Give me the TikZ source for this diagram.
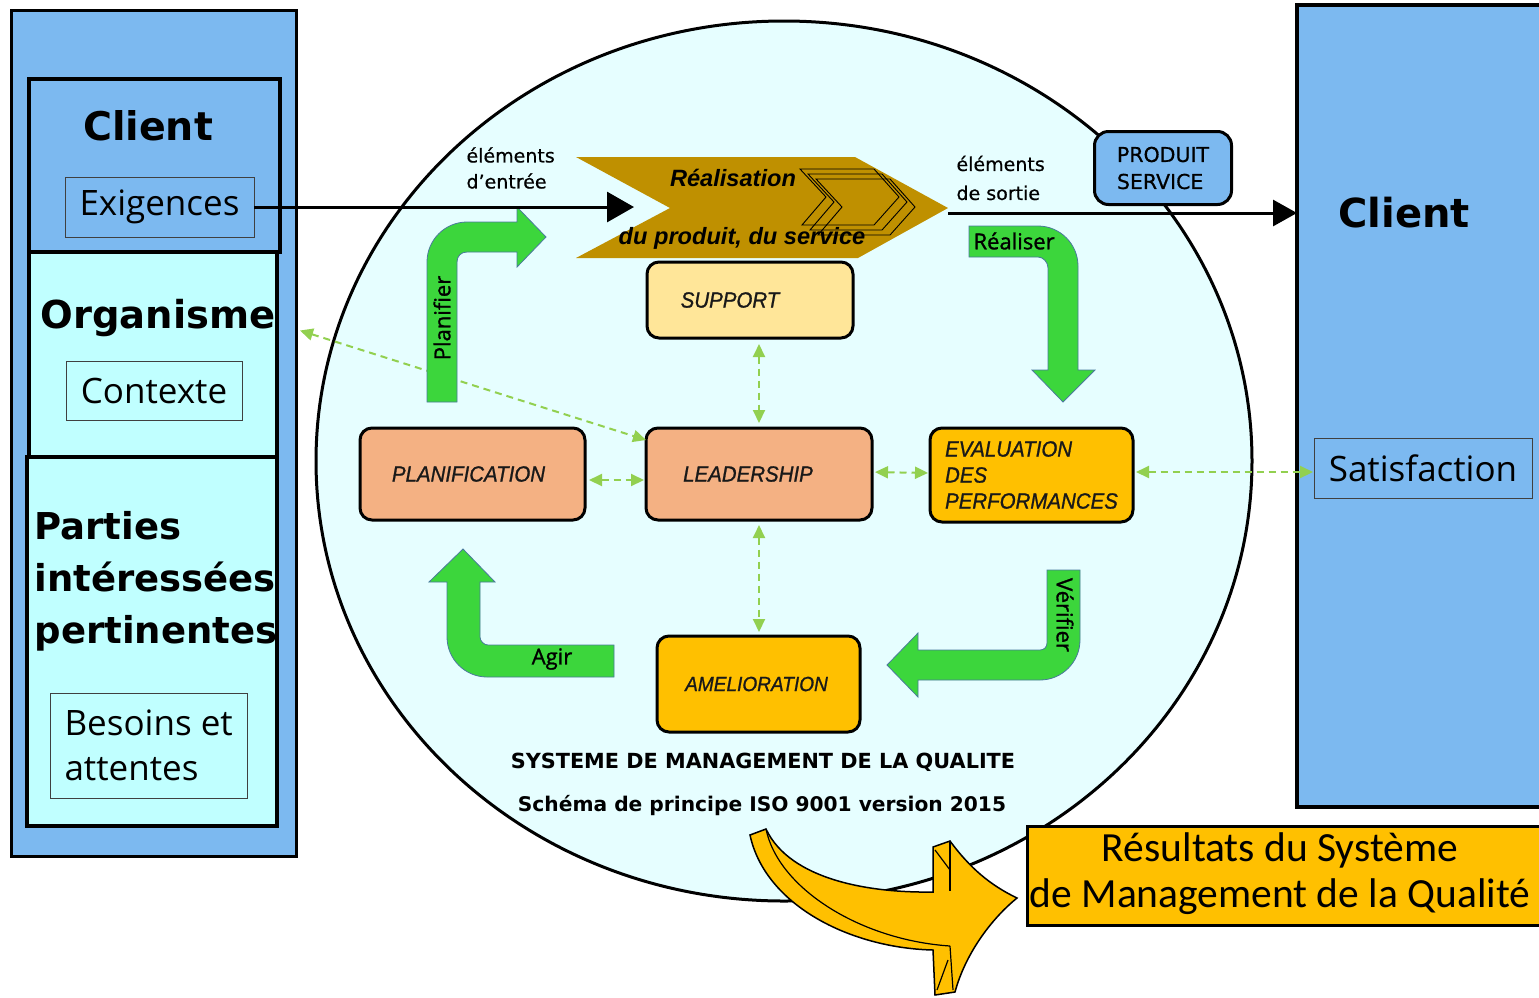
\documentclass[tikz,border=0pt]{standalone}
\usepackage{fontspec}
\setmainfont{DejaVu Sans}
\newfontfamily\dejamedium[FakeBold=0.6]{DejaVu Sans}
\newfontfamily\opensans{Open Sans}
\newfontfamily\opensemi[FakeBold=1.2]{Open Sans}
\newfontfamily\arialike{Liberation Sans}
\newfontfamily\arialabel[FakeBold=1,FakeStretch=0.93]{Liberation Sans}
\newfontfamily\carlito{Carlito}
\usetikzlibrary{shapes.geometric,arrows.meta}
\definecolor{panelblue}{HTML}{7CB9F0}
\definecolor{paleaqua}{HTML}{C0FFFF}
\definecolor{sysfill}{HTML}{E6FEFF}
\definecolor{gold}{HTML}{BF9000}
\definecolor{amber}{HTML}{FFC000}
\definecolor{salmon}{HTML}{F4B183}
\definecolor{cream}{HTML}{FFE699}
\definecolor{leaf}{HTML}{3CD63C}
\definecolor{leafedge}{HTML}{4A7A9C}
\definecolor{dashgreen}{HTML}{92D050}
\newcommand\fsz[2]{\fontsize{#1pt}{#2pt}\selectfont}
% pushes a centred label to the left by half of the given width
\newcommand\leftby[1]{\hspace*{#1}}
\begin{document}
\begin{tikzpicture}[x=1pt,y=-1pt,
  frame/.style={draw=black, line width=#1, inner sep=0pt, outer sep=0pt, anchor=north west},
  frame/.default=3pt,
  tag/.style={draw=black!75, line width=1pt, inner sep=0pt, outer sep=0pt, anchor=north west},
  proc/.style={draw=black, line width=3pt, rounded corners=12pt, inner sep=0pt, outer sep=0pt,
    anchor=north west, text=black!90, font=\arialabel\itshape\fsz{22}{26}},
  link/.style={dashgreen, line width=2pt, dash pattern=on 7pt off 5pt,
    {Triangle[length=13pt,width=12pt]}-{Triangle[length=13pt,width=12pt]}},
  flow/.style={fill=leaf, draw=leafedge, line width=0.8pt},
  flowlabel/.style={font=\opensemi\fsz{22}{26}},
  heading/.style={font=\bfseries\fsz{#1}{#1}},
  plain/.style={font=\opensans\fsz{35}{45}}
]
\useasboundingbox (0,0) rectangle (1539,997);
\clip (0,0) rectangle (1539,997);

% ---------- left column: interested parties ----------
\node[frame, fill=panelblue, minimum width=285pt, minimum height=846pt] (leftpanel) at (11,10) {};
\node[frame=4pt, fill=panelblue, minimum width=251pt, minimum height=173pt] (cl) at (29,79) {};
\node[frame=4pt, fill=paleaqua, minimum width=248pt, minimum height=205pt] (org) at (29,252) {};
\node[frame=4pt, fill=paleaqua, minimum width=250pt, minimum height=369pt] (pip) at (27,457) {};
\node[tag, fill=panelblue, minimum width=189pt, minimum height=60pt, plain] (exi) at (65,177) {Exigences};
\node[tag, fill=paleaqua, minimum width=176pt, minimum height=59pt, plain] (ctx) at (66,361) {Contexte};
\node[tag, fill=paleaqua, minimum width=197pt, minimum height=105pt] (bes) at (50,693) {};
\node[plain, anchor=west, align=left] at (61,745) {Besoins et\\attentes};
\node[heading=39.5] at (148,126) {Client};
\node[heading=38.5] at (158,318) {Organisme};
\node[font=\bfseries\fsz{37}{52}, anchor=west, align=left] at (31,581) {Parties\\intéressées\\pertinentes};

% ---------- right column: customer ----------
\node[frame=4pt, fill=panelblue, minimum width=260pt, minimum height=802pt] (rightpanel) at (1297,5) {};
\node[heading=40] at (1404,213) {Client};
\node[tag, fill=panelblue, minimum width=218pt, minimum height=60pt, plain] (sat) at (1314,438) {Satisfaction};

% ---------- quality management system ----------
\node[ellipse, draw=black, line width=3pt, fill=sysfill, inner sep=0pt,
      minimum width=936pt, minimum height=880pt] (sys) at (784,461) {};

% realisation chevron
\fill[gold] (576,157) -- (855,157) -- (948,208) -- (858,258) -- (576,258) -- (670,208) -- cycle;
\foreach \k in {0,1,2}
  \draw[black, line width=0.9pt, shift={(8*\k,5*\k)}]
    (800,169) -- (874,169) -- (899,197) -- (874,225) -- (802,225) -- (826,197) -- cycle;
\node[font=\arialike\bfseries\itshape\fsz{23.6}{28}] at (733,178) {Réalisation};
\node[font=\arialike\bfseries\itshape\fsz{23.6}{28}] at (742,238) {du produit, du service};
\coordinate (notch) at (634,207);
\coordinate (exitpt) at (948,213);

% processes
\node[proc, fill=cream, minimum width=206pt, minimum height=76pt] (sup) at (647,262) {SUPPORT\leftby{40pt}};
\node[proc, fill=salmon, minimum width=225pt, minimum height=92pt] (plan) at (360,428) {PLANIFICATION\leftby{8pt}};
\node[proc, fill=salmon, minimum width=226pt, minimum height=92pt] (lead) at (646,428) {LEADERSHIP\leftby{22pt}};
\node[proc, fill=amber, minimum width=203pt, minimum height=94pt, align=left] (eval) at (930,428)
  {EVALUATION\\DES\\PERFORMANCES};
\node[proc, fill=amber, minimum width=203pt, minimum height=96pt, font=\arialabel\itshape\fsz{20.5}{26}]
  (amel) at (657,636) {AMELIORATION\leftby{4pt}};

% interactions
\draw[link] ([xshift=23pt,yshift=24pt]org.east) -- ([yshift=-12pt]lead.north west);
\draw[link, shorten <=6pt, shorten >=5pt] (lead.north |- sup.south) -- (lead.north);
\draw[link, shorten <=5pt, shorten >=4pt] (lead.south) -- (lead.south |- amel.north);
\draw[link, shorten <=4pt, shorten >=2pt] ([yshift=-6pt]plan.east) -- ([yshift=-6pt]lead.west);
\draw[link, shorten <=3pt, shorten >=2pt] ([yshift=2pt]lead.east) -- ([yshift=2pt]eval.west);
\draw[link, shorten <=3pt, shorten >=1pt] ([yshift=3pt]eval.east) -- (sat.west |- 0,472);

% PDCA arrows
\draw[flow] (427,402) -- (427,262) .. controls (427,240) and (445,222) .. (467,222)
  -- (517,222) -- (517,207) -- (546,237) -- (517,267) -- (517,252) -- (467,252)
  .. controls (461,252) and (457,256) .. (457,262) -- (457,402) -- cycle;
\draw[flow] (969,226) -- (1038,226) .. controls (1060,226) and (1078,244) .. (1078,266)
  -- (1078,370) -- (1095,370) -- (1063,402) -- (1032,370) -- (1048,370) -- (1048,268)
  .. controls (1048,262) and (1043,257) .. (1038,257) -- (969,257) -- cycle;
\draw[flow] (1047,570) -- (1080,570) -- (1080,640) .. controls (1080,662) and (1062,680) .. (1040,680)
  -- (918,680) -- (918,697) -- (887,665) -- (918,633) -- (918,650) -- (1040,650)
  .. controls (1044,650) and (1047,647) .. (1047,643) -- cycle;
\draw[flow] (614,645) -- (614,677) -- (487,677) .. controls (465,677) and (447,659) .. (447,637)
  -- (447,582) -- (429,582) -- (463,549) -- (495,582) -- (480,582) -- (480,637)
  .. controls (480,641) and (484,645) .. (488,645) -- cycle;
\node[flowlabel, rotate=90] at (442,318) {Planifier};
\node[flowlabel, anchor=west] at (970,241) {Réaliser};
\node[flowlabel, rotate=-90] at (1065,615) {Vérifier};
\node[flowlabel] at (552,659) {Agir};

% inputs and outputs
\node[font=\dejamedium\fsz{19}{26}, anchor=west, align=left] at (463,168) {éléments\\d’entrée};
\node[font=\dejamedium\fsz{19}{29}, anchor=west, align=left] at (953,178) {éléments\\de sortie};
\draw[line width=3pt, -{Triangle[length=27pt,width=30pt]}] (exi.east) -- (notch);
\draw[line width=3pt, -{Triangle[length=24pt,width=26pt]}] (exitpt) -- (rightpanel.west |- exitpt);
\node[draw=black, line width=3pt, fill=panelblue, rounded corners=14pt, anchor=north west,
      minimum width=137pt, minimum height=73pt, inner sep=0pt, align=left,
      font=\dejamedium\fsz{20.5}{27}] (prod) at (1093,130) {PRODUIT\\SERVICE};

% system title
\node[font=\bfseries\fsz{20.8}{26}] at (763,762) {SYSTEME DE MANAGEMENT DE LA QUALITE};
\node[font=\bfseries\fsz{20.2}{26}] at (762,806) {Schéma de principe ISO 9001 version 2015};

% outcome arrow and results
\filldraw[fill=amber, draw=black, line width=1.5pt]
  (750,835) -- (766,829) .. controls (790,880) and (870,893) .. (933,892) -- (933,847)
  -- (950,841) .. controls (970,868) and (990,885) .. (1017,898)
  .. controls (990,920) and (965,955) .. (955,992) -- (935,995) -- (933,950)
  .. controls (850,948) and (765,905) .. (750,835) -- cycle;
\draw[black, line width=1.2pt] (766,829) .. controls (778,888) and (860,940) .. (950,946);
\draw[black, line width=1.2pt] (950,841) -- (950,891);
\draw[black, line width=1.2pt] (935,850) -- (950,870);
\draw[black, line width=1.2pt] (950,946) -- (953,990);
\draw[black, line width=1.2pt] (948,960) -- (937,990);
\node[frame, fill=amber, minimum width=530pt, minimum height=99pt] (res) at (1027,826) {};
\node[font=\carlito\fsz{41.5}{46}, align=center] at (1280,874)
  {Résultats du Système\\de Management de la Qualité};
\end{tikzpicture}
\end{document}
